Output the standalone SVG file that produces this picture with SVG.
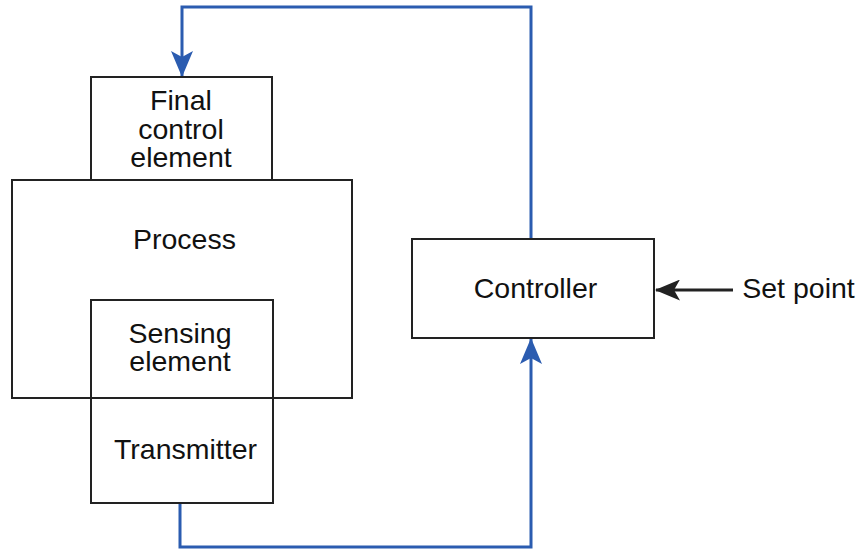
<svg xmlns="http://www.w3.org/2000/svg" width="859" height="551" viewBox="0 0 859 551">
<style>
.box{fill:none;stroke:#222;stroke-width:2}
.t{font-family:"Liberation Sans",Arial,sans-serif;font-size:28.5px;fill:#111;text-anchor:middle}
.w{fill:none;stroke:#2b5cb0;stroke-width:3}
</style>
<defs>
<marker id="ab" markerUnits="userSpaceOnUse" viewBox="0 0 26 22" refX="25" refY="11" markerWidth="26" markerHeight="22" orient="auto">
<path d="M0,0 L26,11 L0,22 L6,11 Z" fill="#2b5cb0"/>
</marker>
<marker id="ak" markerUnits="userSpaceOnUse" viewBox="0 0 25 21" refX="24" refY="10.5" markerWidth="25" markerHeight="21" orient="auto">
<path d="M0,0 L25,10.5 L0,21 L6,10.5 Z" fill="#222"/>
</marker>
</defs>
<g id="connectors">
<path class="w" d="M531,239 V7 H182 V76" marker-end="url(#ab)"/>
<path class="w" d="M180,504 V547 H531 V339" marker-end="url(#ab)"/>
<path d="M733,290 H656" fill="none" stroke="#222" stroke-width="3" marker-end="url(#ak)"/>
</g>
<g id="process">
<rect class="box" x="12" y="180" width="340" height="218"/>
<text class="t" x="184.5" y="249">Process</text>
</g>
<g id="final-control-element">
<rect class="box" x="91" y="77" width="181" height="103"/>
<text class="t" x="181" y="110">Final</text>
<text class="t" x="181" y="138.5">control</text>
<text class="t" x="181" y="167">element</text>
</g>
<g id="sensing-transmitter">
<rect class="box" x="91" y="300" width="182" height="203"/>
<text class="t" x="180" y="343">Sensing</text>
<text class="t" x="180" y="371">element</text>
<text class="t" x="185.5" y="459">Transmitter</text>
</g>
<g id="controller">
<rect class="box" x="412" y="239" width="242" height="99"/>
<text class="t" x="535.5" y="298">Controller</text>
</g>
<g id="setpoint">
<text class="t" x="798.5" y="298">Set point</text>
</g>
</svg>
